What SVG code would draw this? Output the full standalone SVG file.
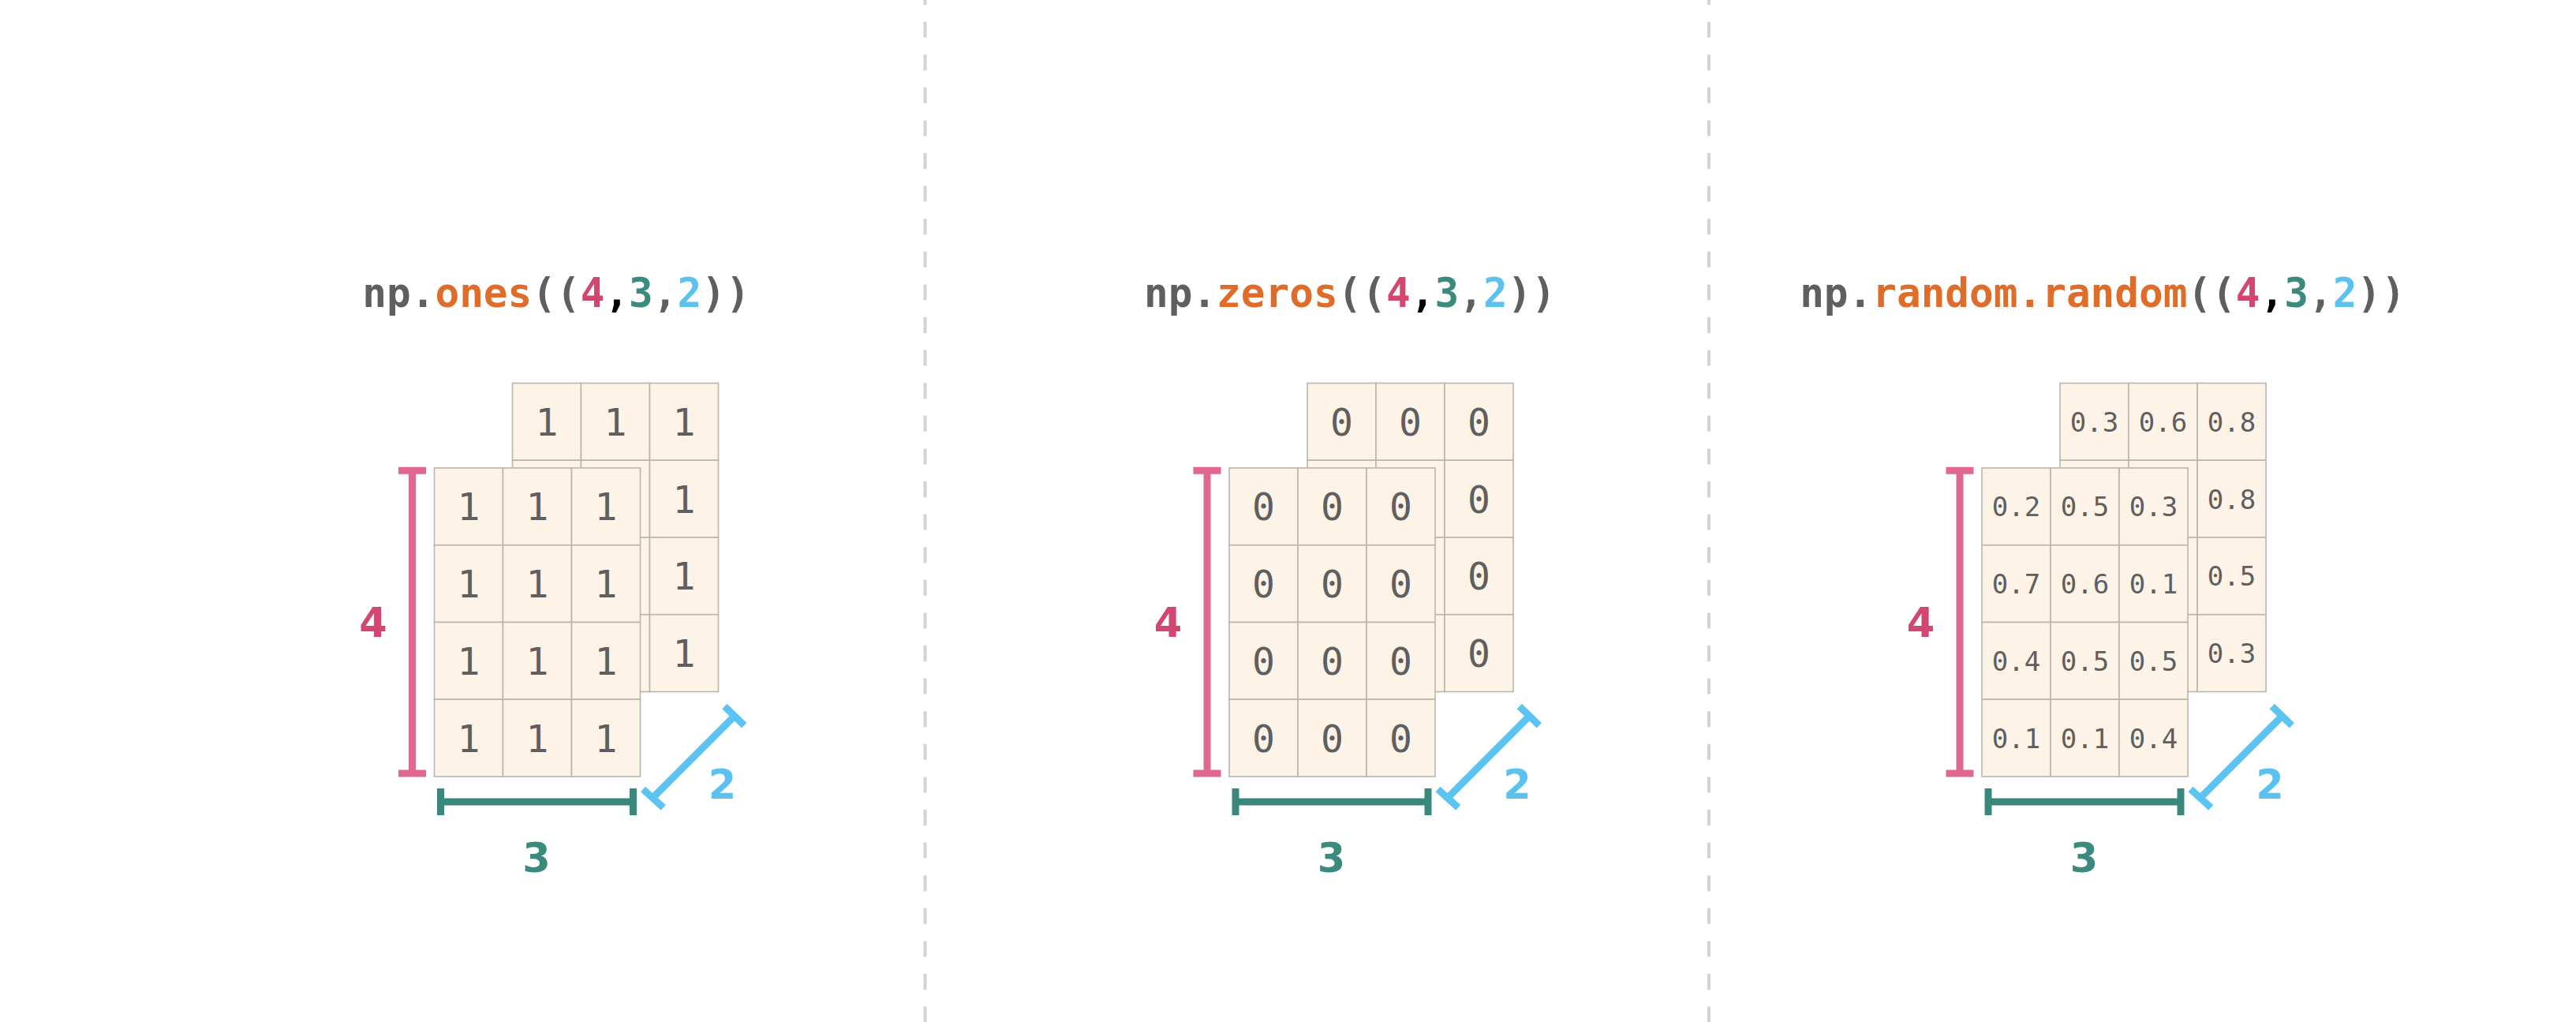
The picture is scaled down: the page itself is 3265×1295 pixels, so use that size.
<svg xmlns="http://www.w3.org/2000/svg" xmlns:xlink="http://www.w3.org/1999/xlink" width="3265" height="1295" viewBox="0 0 3265 1295">
<style>
.cell{fill:#fdf3e6;stroke:#bab5ae;stroke-width:1.6}
.title{font-family:"DejaVu Sans Mono","Liberation Mono",monospace;font-weight:bold;font-size:51px;fill:#5f5f5f;text-anchor:middle}
.fn{fill:#e06c2a}
.c4{fill:#d3466f}
.c3{fill:#3a8a7e}
.c2{fill:#5bc2f0}
.blk{fill:#000}
.v{font-family:"DejaVu Sans Mono","Liberation Mono",monospace;font-size:48px;fill:#5f5f5f;text-anchor:middle}
.d{font-family:"DejaVu Sans Mono","Liberation Mono",monospace;font-size:34px;fill:#5f5f5f;text-anchor:middle}
.lab{font-family:"DejaVu Sans","Liberation Sans",sans-serif;font-weight:bold;font-size:51px;text-anchor:middle}
.pink{stroke:#e0688e;stroke-width:9;fill:none}
.green{stroke:#3a877b;stroke-width:9;fill:none}
.blue{stroke:#5bc4f2;stroke-width:9;fill:none}
.div{stroke:#d3d3d3;stroke-width:4;stroke-dasharray:20 21.6;stroke-dashoffset:14}
</style>
<defs>
<g id="grid">
<rect class="cell" x="0" y="0" width="87" height="97.75"/>
<rect class="cell" x="87" y="0" width="87" height="97.75"/>
<rect class="cell" x="174" y="0" width="87" height="97.75"/>
<rect class="cell" x="0" y="97.75" width="87" height="97.75"/>
<rect class="cell" x="87" y="97.75" width="87" height="97.75"/>
<rect class="cell" x="174" y="97.75" width="87" height="97.75"/>
<rect class="cell" x="0" y="195.5" width="87" height="97.75"/>
<rect class="cell" x="87" y="195.5" width="87" height="97.75"/>
<rect class="cell" x="174" y="195.5" width="87" height="97.75"/>
<rect class="cell" x="0" y="293.25" width="87" height="97.75"/>
<rect class="cell" x="87" y="293.25" width="87" height="97.75"/>
<rect class="cell" x="174" y="293.25" width="87" height="97.75"/>
</g>
<g id="bars">
<path class="pink" d="M522.5 596V980M505 596.2H540M505 980H540"/>
<path class="green" d="M558.5 1016H802.5M558.5 999V1033M802.5 999V1033"/>
<path class="blue" d="M828.3 1010L930 908.3M918.3 895L943.3 919.3M815 1000L840.7 1023.3"/>
</g>
</defs>

<g id="dividers">
<line class="div" x1="1172.5" y1="0" x2="1172.5" y2="1295"/>
<line class="div" x1="2166" y1="0" x2="2166" y2="1295"/>
</g>

<!-- Panel 1: np.ones -->
<g id="ones-title">
<text class="title" x="705" y="389">np.<tspan class="fn">ones</tspan>((<tspan class="c4">4</tspan><tspan class="blk">,</tspan><tspan class="c3">3</tspan>,<tspan class="c2">2</tspan>))</text>
</g>
<g id="ones-back-layer">
<use xlink:href="#grid" x="649.5" y="485.5"/>
<text class="v" x="693" y="552">1</text>
<text class="v" x="780" y="552">1</text>
<text class="v" x="867" y="552">1</text>
<text class="v" x="867" y="649.6">1</text>
<text class="v" x="867" y="747.4">1</text>
<text class="v" x="867" y="845.1">1</text>
</g>
<g id="ones-front-layer">
<use xlink:href="#grid" x="550.5" y="593"/>
<text class="v" x="594" y="659.4">1</text><text class="v" x="681" y="659.4">1</text><text class="v" x="768" y="659.4">1</text>
<text class="v" x="594" y="757.1">1</text><text class="v" x="681" y="757.1">1</text><text class="v" x="768" y="757.1">1</text>
<text class="v" x="594" y="854.9">1</text><text class="v" x="681" y="854.9">1</text><text class="v" x="768" y="854.9">1</text>
<text class="v" x="594" y="952.6">1</text><text class="v" x="681" y="952.6">1</text><text class="v" x="768" y="952.6">1</text>
</g>
<g id="ones-dimensions">
<use xlink:href="#bars"/>
<text class="lab c4" x="473" y="807">4</text>
<text class="lab c3" x="680" y="1105">3</text>
<text class="lab c2" x="915.5" y="1011.7">2</text>
</g>

<!-- Panel 2: np.zeros -->
<g id="zeros-title">
<text class="title" x="1711" y="389">np.<tspan class="fn">zeros</tspan>((<tspan class="c4">4</tspan><tspan class="blk">,</tspan><tspan class="c3">3</tspan>,<tspan class="c2">2</tspan>))</text>
</g>
<g id="zeros-back-layer" transform="translate(1007.5 0)">
<use xlink:href="#grid" x="649.5" y="485.5"/>
<text class="v" x="693" y="552">0</text>
<text class="v" x="780" y="552">0</text>
<text class="v" x="867" y="552">0</text>
<text class="v" x="867" y="649.6">0</text>
<text class="v" x="867" y="747.4">0</text>
<text class="v" x="867" y="845.1">0</text>
</g>
<g id="zeros-front-layer" transform="translate(1007.5 0)">
<use xlink:href="#grid" x="550.5" y="593"/>
<text class="v" x="594" y="659.4">0</text><text class="v" x="681" y="659.4">0</text><text class="v" x="768" y="659.4">0</text>
<text class="v" x="594" y="757.1">0</text><text class="v" x="681" y="757.1">0</text><text class="v" x="768" y="757.1">0</text>
<text class="v" x="594" y="854.9">0</text><text class="v" x="681" y="854.9">0</text><text class="v" x="768" y="854.9">0</text>
<text class="v" x="594" y="952.6">0</text><text class="v" x="681" y="952.6">0</text><text class="v" x="768" y="952.6">0</text>
</g>
<g id="zeros-dimensions" transform="translate(1007.5 0)">
<use xlink:href="#bars"/>
<text class="lab c4" x="473" y="807">4</text>
<text class="lab c3" x="680" y="1105">3</text>
<text class="lab c2" x="915.5" y="1011.7">2</text>
</g>

<!-- Panel 3: np.random.random -->
<g id="random-title">
<text class="title" x="2665" y="389">np.<tspan class="fn">random.random</tspan>((<tspan class="c4">4</tspan><tspan class="blk">,</tspan><tspan class="c3">3</tspan>,<tspan class="c2">2</tspan>))</text>
</g>
<g id="random-back-layer" transform="translate(1961.5 0)">
<use xlink:href="#grid" x="649.5" y="485.5"/>
<text class="d" x="693" y="546.8">0.3</text>
<text class="d" x="780" y="546.8">0.6</text>
<text class="d" x="867" y="546.8">0.8</text>
<text class="d" x="867" y="644.5">0.8</text>
<text class="d" x="867" y="742.3">0.5</text>
<text class="d" x="867" y="840">0.3</text>
</g>
<g id="random-front-layer" transform="translate(1961.5 0)">
<use xlink:href="#grid" x="550.5" y="593"/>
<text class="d" x="594" y="654.3">0.2</text><text class="d" x="681" y="654.3">0.5</text><text class="d" x="768" y="654.3">0.3</text>
<text class="d" x="594" y="752">0.7</text><text class="d" x="681" y="752">0.6</text><text class="d" x="768" y="752">0.1</text>
<text class="d" x="594" y="849.8">0.4</text><text class="d" x="681" y="849.8">0.5</text><text class="d" x="768" y="849.8">0.5</text>
<text class="d" x="594" y="947.5">0.1</text><text class="d" x="681" y="947.5">0.1</text><text class="d" x="768" y="947.5">0.4</text>
</g>
<g id="random-dimensions" transform="translate(1961.5 0)">
<use xlink:href="#bars"/>
<text class="lab c4" x="473" y="807">4</text>
<text class="lab c3" x="680" y="1105">3</text>
<text class="lab c2" x="915.5" y="1011.7">2</text>
</g>
</svg>
